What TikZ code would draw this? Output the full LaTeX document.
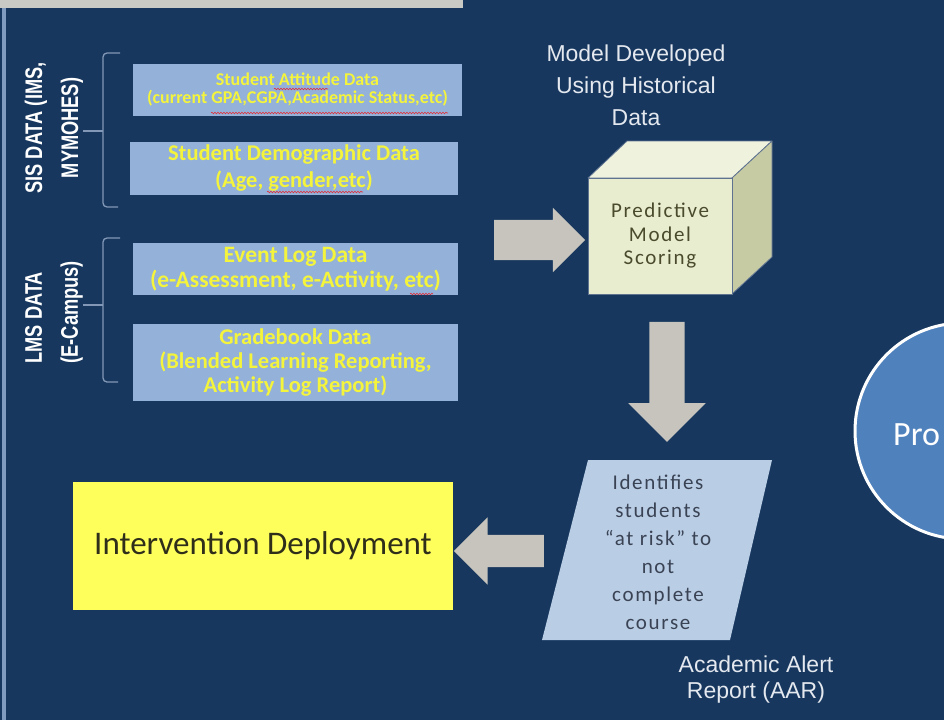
\documentclass[tikz,border=0pt]{standalone}
\usepackage{fontspec}
\setmainfont{Carlito}
\newfontfamily\arialf{Liberation Sans}
\newfontfamily\arialnb[FakeStretch=0.76]{Liberation Sans}
\newfontfamily\calf{Carlito}
\newfontfamily\calsp[LetterSpace=8]{Carlito}
\usetikzlibrary{shapes.arrows,decorations.pathmorphing}
\definecolor{bgnavy}{HTML}{17375E}
\definecolor{topgray}{HTML}{C9C9C5}
\definecolor{leftstrip}{HTML}{7F9BC0}
\definecolor{boxblue}{HTML}{93B1D9}
\definecolor{ytext}{HTML}{F4F43C}
\definecolor{arrowgray}{HTML}{C6C4BC}
\definecolor{cubefront}{HTML}{E9EDD0}
\definecolor{cubetop}{HTML}{EFF2DD}
\definecolor{cuberight}{HTML}{C7CBA4}
\definecolor{cubeedge}{HTML}{5F7391}
\definecolor{cubetext}{HTML}{4A4A2C}
\definecolor{paraBlue}{HTML}{B9CDE5}
\definecolor{paratext}{HTML}{3A4354}
\definecolor{yellowbox}{HTML}{FFFF5C}
\definecolor{circblue}{HTML}{4F81BD}
\definecolor{ltext}{HTML}{E4E8EF}
\definecolor{brkcol}{HTML}{8398B6}
\definecolor{squig}{HTML}{E0303A}
\definecolor{intext}{HTML}{2E2E1A}
\tikzset{
  databox/.style={fill=boxblue, inner sep=0pt, align=center, text=ytext},
  blockarrow/.style={single arrow, fill=arrowgray, draw=none, inner xsep=0pt,
     single arrow tip angle=90},
  brk/.style={draw=brkcol, line width=1.3pt, rounded corners=4pt},
  redsq/.style={draw=squig, line width=0.6pt, decorate,
     decoration={snake, amplitude=0.8pt, segment length=3pt}},
  sidelabel/.style={rotate=90, text=white, font=\arialnb\bfseries\fontsize{24}{36}\selectfont},
}
\begin{document}
\begin{tikzpicture}[x=1pt,y=-1pt]
\useasboundingbox (0,0) rectangle (944,720);
\clip (0,0) rectangle (944,720);
\fill[bgnavy] (0,0) rectangle (944,720);
\fill[topgray] (0,0) rectangle (463,8);
\fill[leftstrip] (2,8) rectangle (6,720);

% data boxes
\node[databox, minimum width=329pt, minimum height=52pt,
      font=\calf\bfseries\fontsize{18}{20}\selectfont] (att) at (297.5,90)
  {\raisebox{-2pt}{Student Attitude Data}\\(current GPA,CGPA,Academic Status,etc)};
\node[databox, minimum width=328pt, minimum height=53pt,
      font=\calf\bfseries\fontsize{22.5}{27}\selectfont] (demo) at (294,168.5)
  {Student Demographic Data\\(Age, gender,etc)};
\node[databox, minimum width=325pt, minimum height=52pt,
      font=\calf\bfseries\fontsize{23.5}{25}\selectfont] (event) at (295.5,269)
  {Event Log Data\\(e-Assessment, e-Activity, etc)};
\node[databox, minimum width=325pt, minimum height=77pt,
      font=\calf\bfseries\fontsize{22.5}{24}\selectfont] (grade) at (295.5,362.5)
  {Gradebook Data\\(Blended Learning Reporting,\\Activity Log Report)};

% spell-check squiggles
\draw[redsq] (274,89) -- (328,89);
\draw[redsq] (211,113) -- (448,113);
\draw[redsq] (267,192) -- (363,192);
\draw[redsq] (410,294) -- (433,294);

% brackets
\draw[brk] (120,53) -- (103,53) -- (103,207) -- (118,207);
\draw[brk] (103,131) -- (83,131);
\draw[brk] (120,238) -- (103,238) -- (103,382) -- (118,382);
\draw[brk] (103,305) -- (83,305);

\node[sidelabel, align=center] (sis) at (54,128) {SIS DATA (IMS,\\MYMOHES)};
\node[sidelabel, align=left, anchor=west] (lms) at (54,367) {LMS DATA\\(E-Campus)};

% model developed label
\node[text=ltext, align=center, font=\arialf\fontsize{23}{32}\selectfont] (dev) at (636,85)
  {Model Developed\\Using Historical\\Data};

% cube
\filldraw[fill=cubetop, draw=cubeedge, line width=0.8pt, line join=round]
  (588,178) -- (627,141) -- (772,141) -- (732,178) -- cycle;
\filldraw[fill=cuberight, draw=cubeedge, line width=0.8pt, line join=round]
  (732,178) -- (772,141) -- (772,257) -- (732,294) -- cycle;
\node[fill=cubefront, draw=cubeedge, line width=0.8pt, minimum width=144pt, minimum height=116pt,
      inner sep=0pt] (cube) at (660,236) {};
\node[text=cubetext, align=center, font=\calsp\fontsize{21}{23.5}\selectfont] (cubetxt) at (cube.center)
  {Predictive\\Model\\Scoring};

% block arrows
\node[blockarrow, minimum height=91pt, inner ysep=20pt, single arrow head extend=12pt] (a1) at (529.5,240) {};
\node[blockarrow, minimum height=120pt, inner ysep=17.5pt, single arrow head extend=21pt,
      rotate=-90] (a2) at (667,373) {};
\node[blockarrow, minimum height=90pt, inner ysep=16pt, single arrow head extend=17.5pt,
      shape border rotate=180] (a3) at (507,551) {};

% parallelogram
\fill[paraBlue] (588,460) -- (772,460) -- (730,640) -- (542,640) -- cycle;
\node[text=paratext, align=center, font=\calsp\fontsize{21}{28}\selectfont] (alert) at (658,552)
  {Identifies\\students\\“at risk” to\\not\\complete\\course};
\node[text=ltext, align=center, font=\arialf\fontsize{23}{26}\selectfont] (aar) at (756,680)
  {Academic Alert\\Report (AAR)};

% intervention box
\node[fill=yellowbox, minimum width=380pt, minimum height=128pt, inner sep=0pt,
      text=intext, font=\calf\fontsize{33}{38}\selectfont] (interv) at (263,546)
  {Intervention Deployment};

% circle
\node[circle, draw=white, line width=3pt, fill=circblue, minimum size=216pt, inner sep=0pt] (proc) at (963,431) {};
\node[anchor=base west, text=white, font=\calf\fontsize{34}{40}\selectfont, inner sep=0pt] (protxt) at (893,445) {Pro};
\end{tikzpicture}
\end{document}
